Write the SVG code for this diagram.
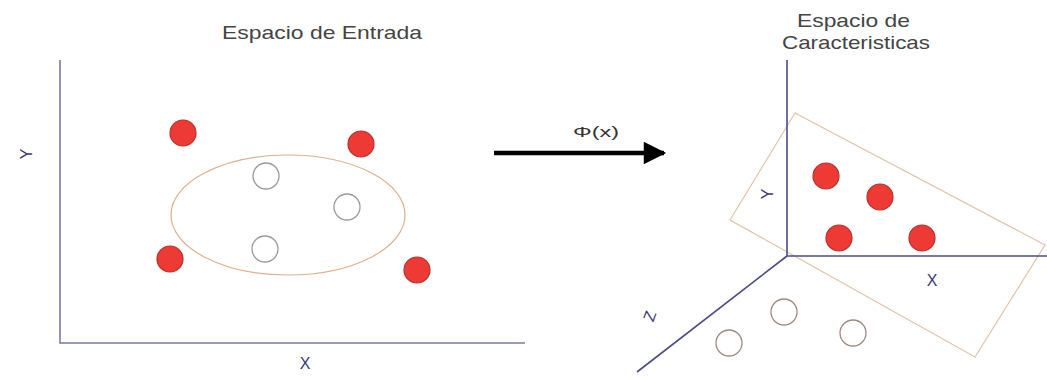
<svg xmlns="http://www.w3.org/2000/svg" width="1047" height="378" viewBox="0 0 1047 378">
<style>
.title{font-family:"Liberation Sans",Arial,sans-serif;font-size:19px;fill:#444}
.lbl{font-family:"Liberation Sans",Arial,sans-serif;font-size:16px;fill:#3a3a72;text-anchor:middle}
.axisL{stroke:#7a7aa4;stroke-width:1.6;fill:none}
.axisR{stroke:#4c4c86;stroke-width:1.6;fill:none}
.red{fill:#ee3a35;stroke:#b8302c;stroke-width:1.2}
.wht{fill:#fff;stroke:#9a9a9a;stroke-width:1.3}
.wht2{fill:#fff;stroke:#a08a80;stroke-width:1.3}
</style>
<defs>
<marker id="ah" viewBox="0 0 10 10" refX="9" refY="5" markerWidth="8.5" markerHeight="5" markerUnits="strokeWidth" orient="auto">
<path d="M0,0 L10,5 L0,10 z" fill="#000"/>
</marker>
</defs>
<rect width="1047" height="378" fill="#fff"/>

<g id="input-space">
<text class="title" x="222" y="39" textLength="200" lengthAdjust="spacingAndGlyphs">Espacio de Entrada</text>
<path class="axisL" d="M60,60 V343 H525"/>
<text class="lbl" transform="translate(32,154) rotate(-90)">Y</text>
<text class="lbl" x="305" y="369">X</text>
<ellipse cx="288" cy="215" rx="117" ry="60" fill="#fff" stroke="#dfb08c" stroke-width="1.2"/>
<circle class="red" cx="183" cy="133" r="13"/>
<circle class="red" cx="361" cy="144" r="13"/>
<circle class="red" cx="170" cy="259" r="13"/>
<circle class="red" cx="417" cy="270" r="13"/>
<circle class="wht" cx="266" cy="176" r="13"/>
<circle class="wht" cx="347" cy="207" r="13"/>
<circle class="wht" cx="265" cy="249" r="13"/>
</g>

<g id="connectors">
<line x1="494" y1="153" x2="664" y2="153" stroke="#000" stroke-width="4.5" marker-end="url(#ah)"/>
<text x="596" y="137" font-family="Liberation Sans, Arial, sans-serif" font-size="15" fill="#333" text-anchor="middle" textLength="46" lengthAdjust="spacingAndGlyphs">Φ(x)</text>
</g>

<g id="feature-space">
<text class="title" x="797" y="27" textLength="113" lengthAdjust="spacingAndGlyphs">Espacio de</text>
<text class="title" x="782" y="49" textLength="148" lengthAdjust="spacingAndGlyphs">Caracteristicas</text>
<polygon points="795,113 1045,245 975,357 730,220" fill="none" stroke="#e2c4a6" stroke-width="1.2"/>
<path class="axisR" d="M787,60 V256 H1047 M787,256 L637,372"/>
<text class="lbl" transform="translate(773,194) rotate(-90)">Y</text>
<text class="lbl" x="932" y="286">X</text>
<text class="lbl" transform="translate(655,318) rotate(-70)">Z</text>
<circle class="red" cx="826" cy="176" r="13"/>
<circle class="red" cx="880" cy="197" r="13"/>
<circle class="red" cx="839" cy="238" r="13"/>
<circle class="red" cx="922" cy="238" r="13"/>
<circle class="wht2" cx="784" cy="312" r="13"/>
<circle class="wht2" cx="853" cy="333" r="13"/>
<circle class="wht2" cx="729" cy="343" r="13"/>
</g>
</svg>
